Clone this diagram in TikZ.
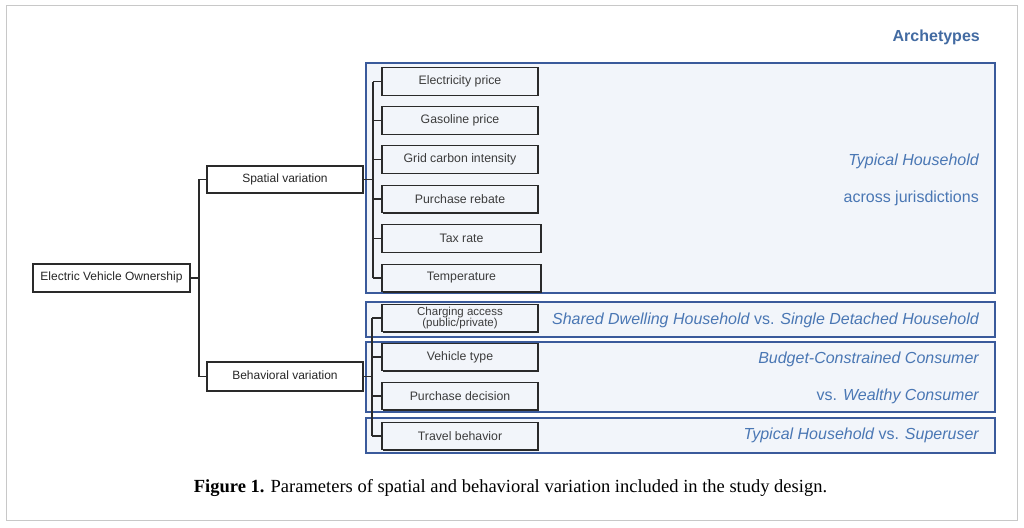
\documentclass[tikz,border=0pt]{standalone}
\usepackage{fontspec}
\setmainfont{Liberation Serif}
\setsansfont{Liberation Sans}
\usetikzlibrary{shadows}
\definecolor{framegray}{HTML}{C8C8C8}
\definecolor{regionblue}{HTML}{3A5A9B}
\definecolor{regionfill}{HTML}{F2F5FA}
\definecolor{textblue}{HTML}{4A77B4}
\definecolor{boxtext}{HTML}{3C3C3C}
\definecolor{boxline}{HTML}{2A2A2A}
\tikzset{
  x=1pt, y=-1pt,
  hierbox/.style={draw=boxline, line width=1.4pt, fill=white, inner sep=0pt,
    minimum width=156pt, minimum height=27pt, font=\sffamily\fontsize{12}{13}\selectfont,
    text=black!85, text height=1.5ex, text depth=.3ex,
    drop shadow={shadow xshift=1.2pt, shadow yshift=-1.2pt, fill=boxline, opacity=1}},
  parambox/.style={draw=boxline, line width=1.4pt, fill=regionfill, inner sep=0pt,
    minimum width=156pt, minimum height=27.5pt, font=\sffamily\fontsize{12.3}{13}\selectfont,
    text=boxtext, align=center,
    drop shadow={shadow xshift=1.2pt, shadow yshift=-1.2pt, fill=boxline, opacity=1}},
  region/.style={draw=regionblue, line width=1.8pt, fill=regionfill},
  arch/.style={anchor=east, text=textblue, font=\sffamily\fontsize{16}{18}\selectfont, inner sep=0pt},
  conn/.style={draw=boxline, line width=1.4pt},
}
\begin{document}
\begin{tikzpicture}
\useasboundingbox (0,0) rectangle (1024,527);
\fill[white] (0,0) rectangle (1024,527);
\draw[framegray, line width=1pt] (6,6) rectangle (1017,520);

% archetype regions
\draw[region] (366,63) rectangle (995,293);
\draw[region] (366,302) rectangle (995,337);
\draw[region] (366,342) rectangle (995,412);
\draw[region] (366,418) rectangle (995,453);

\node[anchor=east, text=textblue!90!black, font=\sffamily\bfseries\fontsize{16}{18}\selectfont, inner sep=0pt] (archt) at (980,37) {Archetypes};

% hierarchy
\node[hierbox, minimum width=157pt, minimum height=28pt] (evo) at (111.5,278) {Electric Vehicle Ownership};
\node[hierbox] (sp) at (285,179.5) {Spatial variation};
\node[hierbox, minimum height=29pt] (bv) at (285,376.5) {Behavioral variation};

% parameters
\node[parambox] (p1) at (460,81.5) {Electricity price};
\node[parambox] (p2) at (460,120.5) {Gasoline price};
\node[parambox] (p3) at (460,159.5) {Grid carbon intensity};
\node[parambox] (p4) at (460,199) {Purchase rebate};
\node[parambox, minimum width=159pt] (p5) at (461.5,238.5) {Tax rate};
\node[parambox, minimum width=159pt] (p6) at (461.5,278) {Temperature};
\node[parambox, font=\sffamily\fontsize{11.5}{11}\selectfont] (q1) at (460,318) {Charging access\\(public/private)};
\node[parambox] (q2) at (460,357) {Vehicle type};
\node[parambox] (q3) at (460,396) {Purchase decision};
\node[parambox] (q4) at (460,436) {Travel behavior};

% connectors
\coordinate (j1) at (199,278);
\coordinate (s1) at (373,179.5);
\coordinate (b1) at (372,376.5);
\draw[conn] (evo.east) -- (j1);
\draw[conn] (sp.west) -| (j1) |- (bv.west);
\draw[conn] (sp.east) -- (s1);
\draw[conn] (bv.east) -- (b1);
\draw[conn] (p1.west -| s1) -- (p6.west -| s1);
\foreach \p in {p1,p2,p3,p4,p5,p6} { \draw[conn] (\p.west) -- (\p.west -| s1); }
\draw[conn] (q1.west -| b1) -- (q4.west -| b1);
\foreach \p in {q1,q2,q3,q4} { \draw[conn] (\p.west) -- (\p.west -| b1); }

% archetype labels
\node[arch] (a1) at (979,161) {\itshape Typical Household};
\node[arch] (a2) at (979,198) {across jurisdictions};
\node[arch] (a3) at (979,320) {\itshape Shared Dwelling Household\upshape{} vs. \itshape Single Detached Household};
\node[arch] (a4) at (979,359) {\itshape Budget-Constrained Consumer};
\node[arch] (a5) at (979,396) {vs. \itshape Wealthy Consumer};
\node[arch] (a6) at (979,435) {\itshape Typical Household\upshape{} vs. \itshape Superuser};

% caption
\node[anchor=center, inner sep=0pt, font=\fontsize{18.5}{20}\selectfont] (cap) at (510.5,488)
  {\textbf{Figure 1.} Parameters of spatial and behavioral variation included in the study design.};
\end{tikzpicture}
\end{document}
